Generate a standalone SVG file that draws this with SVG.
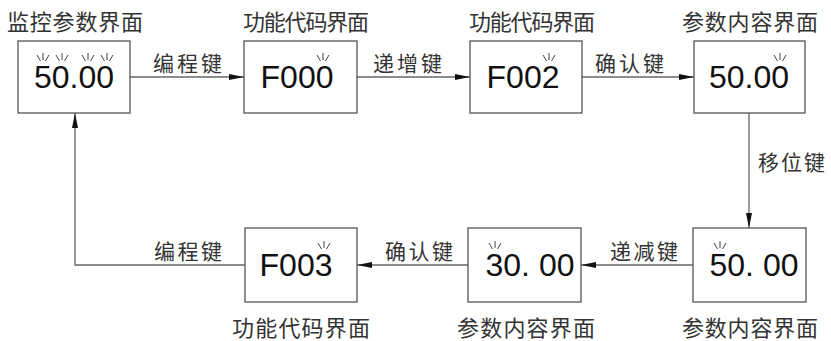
<svg xmlns="http://www.w3.org/2000/svg" width="831" height="341" viewBox="0 0 831 341">
<style>
.box{fill:#fff;stroke:#555;stroke-width:1.3}
.num{font-family:"Liberation Sans",Arial,sans-serif;font-size:32px;fill:#111;text-anchor:middle}
.title{font-family:"Noto Sans CJK SC","Noto Sans",sans-serif;font-size:22px;fill:#333}
.lbl{font-family:"Noto Sans CJK SC","Noto Sans",sans-serif;font-size:21px;fill:#333}
.conn{fill:none;stroke:#666;stroke-width:1.3}
.fl{stroke:#444;stroke-width:1;fill:none}
</style>
<defs>
<marker id="ah" markerUnits="userSpaceOnUse" markerWidth="16" markerHeight="8" refX="15" refY="3.5" orient="auto">
<path d="M0,0.5 L15,3.5 L0,6.5 Z" fill="#111"/>
</marker>
<g id="flash" class="fl">
<line x1="0" y1="-9" x2="0" y2="-2"/>
<line x1="-6" y1="-7" x2="-2.5" y2="-1"/>
<line x1="6" y1="-7" x2="2.5" y2="-1"/>
</g>
</defs>
<rect width="831" height="341" fill="#fff"/>

<g id="connectors">
<line class="conn" x1="130" y1="77" x2="244" y2="77" marker-end="url(#ah)"/>
<line class="conn" x1="357" y1="77" x2="470" y2="77" marker-end="url(#ah)"/>
<line class="conn" x1="582" y1="77" x2="694" y2="77" marker-end="url(#ah)"/>
<line class="conn" x1="749" y1="113" x2="749" y2="228" marker-end="url(#ah)"/>
<line class="conn" x1="693" y1="265" x2="581" y2="265" marker-end="url(#ah)"/>
<line class="conn" x1="468" y1="265" x2="357" y2="265" marker-end="url(#ah)"/>
<polyline class="conn" points="245,265 75,265 75,113" marker-end="url(#ah)"/>
<text class="lbl" x="153" y="71" textLength="69">编程键</text>
<text class="lbl" x="373" y="71" textLength="69">递增键</text>
<text class="lbl" x="595" y="71" textLength="69">确认键</text>
<text class="lbl" x="758" y="170" textLength="67">移位键</text>
<text class="lbl" x="610" y="259" textLength="68">递减键</text>
<text class="lbl" x="385" y="259" textLength="68">确认键</text>
<text class="lbl" x="154" y="259" textLength="68">编程键</text>
</g>

<g id="n1">
<text class="title" x="7" y="30" textLength="136">监控参数界面</text>
<rect class="box" x="18" y="41" width="112" height="72"/>
<text class="num" x="74" y="88">50.00</text>
<use href="#flash" x="43" y="62"/>
<use href="#flash" x="62" y="62"/>
<use href="#flash" x="88" y="62"/>
<use href="#flash" x="107" y="62"/>
</g>

<g id="n2">
<text class="title" x="243" y="30" textLength="126">功能代码界面</text>
<rect class="box" x="244" y="41" width="113" height="72"/>
<text class="num" x="297" y="88">F000</text>
<use href="#flash" x="323" y="62"/>
</g>

<g id="n3">
<text class="title" x="469" y="30" textLength="126">功能代码界面</text>
<rect class="box" x="470" y="41" width="112" height="72"/>
<text class="num" x="523" y="88">F002</text>
<use href="#flash" x="549" y="62"/>
</g>

<g id="n4">
<text class="title" x="682" y="30" textLength="136">参数内容界面</text>
<rect class="box" x="694" y="41" width="111" height="72"/>
<text class="num" x="749" y="88">50.00</text>
<use href="#flash" x="780" y="62"/>
</g>

<g id="n5">
<rect class="box" x="693" y="228" width="113" height="74"/>
<text class="num" x="754" y="276">50. 00</text>
<use href="#flash" x="720" y="250"/>
<text class="title" x="682" y="336" textLength="136">参数内容界面</text>
</g>

<g id="n6">
<rect class="box" x="468" y="228" width="113" height="74"/>
<text class="num" x="530" y="276">30. 00</text>
<use href="#flash" x="495" y="250"/>
<text class="title" x="457" y="336" textLength="138">参数内容界面</text>
</g>

<g id="n7">
<rect class="box" x="245" y="228" width="112" height="74"/>
<text class="num" x="296" y="276">F003</text>
<use href="#flash" x="324" y="250"/>
<text class="title" x="232" y="336" textLength="138">功能代码界面</text>
</g>
</svg>
